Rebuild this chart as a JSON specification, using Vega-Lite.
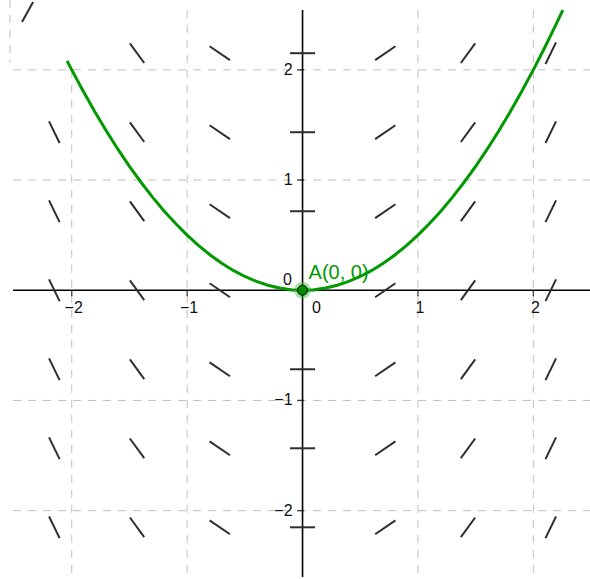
{
  "$schema": "https://vega.github.io/schema/vega-lite/v6.json",
  "width": 577,
  "height": 567,
  "autosize": {"type": "none"},
  "padding": {"left": 13, "top": 10, "right": 0, "bottom": 2},
  "background": "white",
  "config": {"view": {"stroke": null}},
  "datasets": {
    "vgrid": [
      {"gx": -2, "y1": -2.602, "y2": 2.0},
      {"gx": -1, "y1": -2.602, "y2": 2.543},
      {"gx": 1, "y1": -2.602, "y2": 2.543},
      {"gx": 2, "y1": -2.602, "y2": 2.543},
      {"gx": -2.535, "y1": 2.063, "y2": 2.634}
    ],
    "hgrid": [
      {"gy": -2, "x1": -2.509, "x2": 2.491},
      {"gy": -1, "x1": -2.509, "x2": 2.491},
      {"gy": 1, "x1": -2.509, "x2": 2.491},
      {"gy": 2, "x1": -2.509, "x2": 2.491}
    ],
    "axisx": [{"x1": -2.509, "x2": 2.491, "y": 0}],
    "axisy": [{"x": 0, "y1": -2.602, "y2": 2.543}],
    "ticks": [{"v": -2}, {"v": -1}, {"v": 1}, {"v": 2}],
    "xlabels": [
      {"v": -2, "t": "−2"}, {"v": -1, "t": "−1"}, {"v": 1, "t": "1"}, {"v": 2, "t": "2"}
    ],
    "ylabels": [
      {"v": -2, "t": "−2"}, {"v": -1, "t": "−1"}, {"v": 1, "t": "1"}, {"v": 2, "t": "2"}
    ],
    "origin": [{"x": 0, "y": 0, "t": "0", "name": "A(0, 0)"}],
    "segments": [
      {"x": -1.4961, "y": 2.24, "x2": -1.3719, "y2": 2.062},
      {"x": -0.8052, "y": 2.2142, "x2": -0.6288, "y2": 2.0878},
      {"x": -0.1085, "y": 2.151, "x2": 0.1085, "y2": 2.151},
      {"x": 0.6288, "y": 2.0878, "x2": 0.8052, "y2": 2.2142},
      {"x": 1.3719, "y": 2.062, "x2": 1.4961, "y2": 2.24},
      {"x": 2.1053, "y": 2.0526, "x2": 2.1967, "y2": 2.2494},

      {"x": -2.1967, "y": 1.5324, "x2": -2.1053, "y2": 1.3356},
      {"x": -1.4961, "y": 1.523, "x2": -1.3719, "y2": 1.345},
      {"x": -0.8052, "y": 1.4972, "x2": -0.6288, "y2": 1.3708},
      {"x": -0.1085, "y": 1.434, "x2": 0.1085, "y2": 1.434},
      {"x": 0.6288, "y": 1.3708, "x2": 0.8052, "y2": 1.4972},
      {"x": 1.3719, "y": 1.345, "x2": 1.4961, "y2": 1.523},
      {"x": 2.1053, "y": 1.3356, "x2": 2.1967, "y2": 1.5324},

      {"x": -2.1967, "y": 0.8154, "x2": -2.1053, "y2": 0.6186},
      {"x": -1.4961, "y": 0.806, "x2": -1.3719, "y2": 0.628},
      {"x": -0.8052, "y": 0.7802, "x2": -0.6288, "y2": 0.6538},
      {"x": -0.1085, "y": 0.717, "x2": 0.1085, "y2": 0.717},
      {"x": 0.6288, "y": 0.6538, "x2": 0.8052, "y2": 0.7802},
      {"x": 1.3719, "y": 0.628, "x2": 1.4961, "y2": 0.806},
      {"x": 2.1053, "y": 0.6186, "x2": 2.1967, "y2": 0.8154},

      {"x": -2.1967, "y": 0.0984, "x2": -2.1053, "y2": -0.0984},
      {"x": -1.4961, "y": 0.089, "x2": -1.3719, "y2": -0.089},
      {"x": -0.8052, "y": 0.0632, "x2": -0.6288, "y2": -0.0632},
      {"x": -0.1085, "y": 0, "x2": 0.1085, "y2": 0},
      {"x": 0.6288, "y": -0.0632, "x2": 0.8052, "y2": 0.0632},
      {"x": 1.3719, "y": -0.089, "x2": 1.4961, "y2": 0.089},
      {"x": 2.1053, "y": -0.0984, "x2": 2.1967, "y2": 0.0984},

      {"x": -2.1967, "y": -0.6186, "x2": -2.1053, "y2": -0.8154},
      {"x": -1.4961, "y": -0.628, "x2": -1.3719, "y2": -0.806},
      {"x": -0.8052, "y": -0.6538, "x2": -0.6288, "y2": -0.7802},
      {"x": -0.1085, "y": -0.717, "x2": 0.1085, "y2": -0.717},
      {"x": 0.6288, "y": -0.7802, "x2": 0.8052, "y2": -0.6538},
      {"x": 1.3719, "y": -0.806, "x2": 1.4961, "y2": -0.628},
      {"x": 2.1053, "y": -0.8154, "x2": 2.1967, "y2": -0.6186},

      {"x": -2.1967, "y": -1.3356, "x2": -2.1053, "y2": -1.5324},
      {"x": -1.4961, "y": -1.345, "x2": -1.3719, "y2": -1.523},
      {"x": -0.8052, "y": -1.3708, "x2": -0.6288, "y2": -1.4972},
      {"x": -0.1085, "y": -1.434, "x2": 0.1085, "y2": -1.434},
      {"x": 0.6288, "y": -1.4972, "x2": 0.8052, "y2": -1.3708},
      {"x": 1.3719, "y": -1.523, "x2": 1.4961, "y2": -1.345},
      {"x": 2.1053, "y": -1.5324, "x2": 2.1967, "y2": -1.3356},

      {"x": -2.1967, "y": -2.0526, "x2": -2.1053, "y2": -2.2494},
      {"x": -1.4961, "y": -2.062, "x2": -1.3719, "y2": -2.24},
      {"x": -0.8052, "y": -2.0878, "x2": -0.6288, "y2": -2.2142},
      {"x": -0.1085, "y": -2.151, "x2": 0.1085, "y2": -2.151},
      {"x": 0.6288, "y": -2.2142, "x2": 0.8052, "y2": -2.0878},
      {"x": 1.3719, "y": -2.24, "x2": 1.4961, "y2": -2.062},
      {"x": 2.1053, "y": -2.2494, "x2": 2.1967, "y2": -2.0526},

      {"x": -2.431, "y": 2.435, "x2": -2.335, "y2": 2.616}
    ],
    "curve": [
      {"x": -2.04, "y": 2.0808}, {"x": -2.0, "y": 2.0}, {"x": -1.9, "y": 1.805},
      {"x": -1.8, "y": 1.62}, {"x": -1.7, "y": 1.445}, {"x": -1.6, "y": 1.28},
      {"x": -1.5, "y": 1.125}, {"x": -1.4, "y": 0.98}, {"x": -1.3, "y": 0.845},
      {"x": -1.2, "y": 0.72}, {"x": -1.1, "y": 0.605}, {"x": -1.0, "y": 0.5},
      {"x": -0.9, "y": 0.405}, {"x": -0.8, "y": 0.32}, {"x": -0.7, "y": 0.245},
      {"x": -0.6, "y": 0.18}, {"x": -0.5, "y": 0.125}, {"x": -0.4, "y": 0.08},
      {"x": -0.3, "y": 0.045}, {"x": -0.2, "y": 0.02}, {"x": -0.1, "y": 0.005},
      {"x": 0.0, "y": 0.0},
      {"x": 0.1, "y": 0.005}, {"x": 0.2, "y": 0.02}, {"x": 0.3, "y": 0.045},
      {"x": 0.4, "y": 0.08}, {"x": 0.5, "y": 0.125}, {"x": 0.6, "y": 0.18},
      {"x": 0.7, "y": 0.245}, {"x": 0.8, "y": 0.32}, {"x": 0.9, "y": 0.405},
      {"x": 1.0, "y": 0.5}, {"x": 1.1, "y": 0.605}, {"x": 1.2, "y": 0.72},
      {"x": 1.3, "y": 0.845}, {"x": 1.4, "y": 0.98}, {"x": 1.5, "y": 1.125},
      {"x": 1.6, "y": 1.28}, {"x": 1.7, "y": 1.445}, {"x": 1.8, "y": 1.62},
      {"x": 1.9, "y": 1.805}, {"x": 2.0, "y": 2.0}, {"x": 2.1, "y": 2.205},
      {"x": 2.2, "y": 2.42}, {"x": 2.255, "y": 2.5425}
    ]
  },
  "layer": [
    {
      "data": {"name": "vgrid"},
      "mark": {"type": "rule", "color": "#c0c0c0", "strokeWidth": 1, "strokeDash": [8, 7], "clip": false},
      "encoding": {
        "x": {"field": "gx", "type": "quantitative", "axis": null, "scale": {"domain": [-2.509, 2.491], "nice": false, "zero": false}},
        "y": {"field": "y2", "type": "quantitative", "axis": null, "scale": {"domain": [-2.602, 2.543], "nice": false, "zero": false}},
        "y2": {"field": "y1"}
      }
    },
    {
      "data": {"name": "hgrid"},
      "mark": {"type": "rule", "color": "#c0c0c0", "strokeWidth": 1, "strokeDash": [8, 7]},
      "encoding": {
        "y": {"field": "gy", "type": "quantitative", "axis": null, "scale": {"domain": [-2.602, 2.543], "nice": false, "zero": false}},
        "x": {"field": "x1", "type": "quantitative", "axis": null, "scale": {"domain": [-2.509, 2.491], "nice": false, "zero": false}},
        "x2": {"field": "x2"}
      }
    },
    {
      "data": {"name": "axisx"},
      "mark": {"type": "rule", "color": "#000000", "strokeWidth": 1.6},
      "encoding": {
        "y": {"field": "y", "type": "quantitative"},
        "x": {"field": "x1", "type": "quantitative"},
        "x2": {"field": "x2"}
      }
    },
    {
      "data": {"name": "axisy"},
      "mark": {"type": "rule", "color": "#000000", "strokeWidth": 1.6},
      "encoding": {
        "x": {"field": "x", "type": "quantitative"},
        "y": {"field": "y1", "type": "quantitative"},
        "y2": {"field": "y2"}
      }
    },
    {
      "data": {"name": "ticks"},
      "mark": {"type": "tick", "orient": "vertical", "color": "#000000", "thickness": 1.4, "size": 6, "yOffset": 3},
      "encoding": {
        "x": {"field": "v", "type": "quantitative"},
        "y": {"datum": 0, "type": "quantitative"}
      }
    },
    {
      "data": {"name": "ticks"},
      "mark": {"type": "tick", "orient": "horizontal", "color": "#000000", "thickness": 1.4, "size": 7, "xOffset": -2},
      "encoding": {
        "y": {"field": "v", "type": "quantitative"},
        "x": {"datum": 0, "type": "quantitative"}
      }
    },
    {
      "data": {"name": "segments"},
      "mark": {"type": "rule", "color": "#2e2e2e", "strokeWidth": 2, "strokeCap": "butt", "clip": false},
      "encoding": {
        "x": {"field": "x", "type": "quantitative"},
        "y": {"field": "y", "type": "quantitative"},
        "x2": {"field": "x2"},
        "y2": {"field": "y2"}
      }
    },
    {
      "data": {"name": "curve"},
      "mark": {"type": "line", "color": "#009900", "strokeWidth": 3, "clip": false},
      "encoding": {
        "x": {"field": "x", "type": "quantitative"},
        "y": {"field": "y", "type": "quantitative"}
      }
    },
    {
      "data": {"name": "xlabels"},
      "mark": {"type": "text", "font": "Liberation Sans", "fontSize": 16, "color": "#111111", "align": "center", "baseline": "middle", "dx": 2, "dy": 18},
      "encoding": {
        "x": {"field": "v", "type": "quantitative"},
        "y": {"datum": 0, "type": "quantitative"},
        "text": {"field": "t"}
      }
    },
    {
      "data": {"name": "ylabels"},
      "mark": {"type": "text", "font": "Liberation Sans", "fontSize": 16, "color": "#111111", "align": "right", "baseline": "middle", "dx": -10},
      "encoding": {
        "y": {"field": "v", "type": "quantitative"},
        "x": {"datum": 0, "type": "quantitative"},
        "text": {"field": "t"}
      }
    },
    {
      "data": {"name": "origin"},
      "mark": {"type": "text", "font": "Liberation Sans", "fontSize": 16, "color": "#111111", "align": "center", "baseline": "middle", "dx": 14, "dy": 18},
      "encoding": {
        "x": {"field": "x", "type": "quantitative"},
        "y": {"field": "y", "type": "quantitative"},
        "text": {"field": "t"}
      }
    },
    {
      "data": {"name": "origin"},
      "mark": {"type": "text", "font": "Liberation Sans", "fontSize": 16, "color": "#111111", "align": "center", "baseline": "middle", "dx": -15, "dy": -10},
      "encoding": {
        "x": {"field": "x", "type": "quantitative"},
        "y": {"field": "y", "type": "quantitative"},
        "text": {"field": "t"}
      }
    },
    {
      "data": {"name": "origin"},
      "mark": {"type": "point", "filled": true, "color": "#33bb33", "opacity": 0.45, "size": 280},
      "encoding": {
        "x": {"field": "x", "type": "quantitative"},
        "y": {"field": "y", "type": "quantitative"}
      }
    },
    {
      "data": {"name": "origin"},
      "mark": {"type": "point", "filled": true, "fill": "#008a00", "stroke": "#000000", "strokeWidth": 1, "opacity": 1, "size": 100},
      "encoding": {
        "x": {"field": "x", "type": "quantitative"},
        "y": {"field": "y", "type": "quantitative"}
      }
    },
    {
      "data": {"name": "origin"},
      "mark": {"type": "text", "font": "Liberation Sans", "fontSize": 20, "color": "#009900", "align": "left", "baseline": "alphabetic", "dx": 6, "dy": -11},
      "encoding": {
        "x": {"field": "x", "type": "quantitative"},
        "y": {"field": "y", "type": "quantitative"},
        "text": {"field": "name"}
      }
    }
  ]
}
